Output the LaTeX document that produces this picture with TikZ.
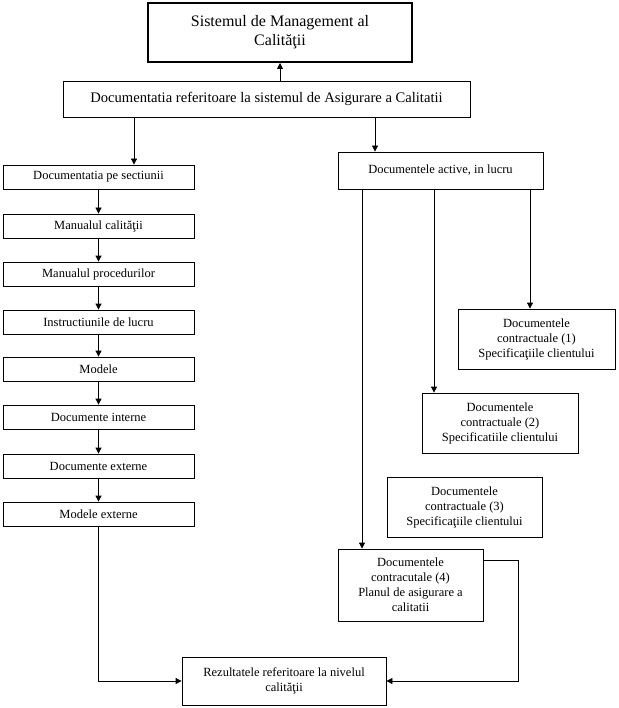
\documentclass[tikz,border=0pt]{standalone}
\usepackage{fontspec}
\setmainfont{Liberation Serif}
\usetikzlibrary{arrows.meta}
\begin{document}
\begin{tikzpicture}[x=1pt,y=-1pt,
  box/.style={draw,line width=0.8pt,inner sep=0pt,align=center,font=\fontsize{12.5}{15}\selectfont},
  arr/.style={line width=0.8pt,-{Triangle[length=6pt,width=6pt]}},
  ln/.style={line width=0.8pt}]
\useasboundingbox (0,0) rectangle (618,708);
\node[box,line width=2pt,minimum width=264pt,minimum height=59pt,font=\fontsize{16}{19}\selectfont] (top) at (280,32.5) {Sistemul de Management al\\Calităţii};
\node[box,minimum width=407pt,minimum height=36pt,font=\fontsize{14.6}{17}\selectfont] (doc) at (266.5,99) {Documentatia referitoare la sistemul de Asigurare a Calitatii};
\node[box,minimum width=191pt,minimum height=24pt] (l1) at (98.5,177) {Documentatia pe sectiunii};
\node[box,minimum width=191pt,minimum height=24pt] (l2) at (98.5,226) {Manualul calităţii};
\node[box,minimum width=191pt,minimum height=24pt] (l3) at (98.5,274) {Manualul procedurilor};
\node[box,minimum width=191pt,minimum height=24pt] (l4) at (98.5,322) {Instructiunile de lucru};
\node[box,minimum width=191pt,minimum height=24pt] (l5) at (98.5,369) {Modele};
\node[box,minimum width=191pt,minimum height=24pt] (l6) at (98.5,417) {Documente interne};
\node[box,minimum width=191pt,minimum height=24pt] (l7) at (98.5,466) {Documente externe};
\node[box,minimum width=191pt,minimum height=24pt] (l8) at (98.5,514) {Modele externe};
\node[box,minimum width=205pt,minimum height=37pt] (act) at (440.5,170.5) {Documentele active, in lucru};
\node[box,minimum width=157pt,minimum height=60pt] (c1) at (536.5,339) {Documentele\\contractuale (1)\\Specificaţiile clientului};
\node[box,minimum width=156pt,minimum height=60pt] (c2) at (500,423) {Documentele\\contractuale (2)\\Specificatiile clientului};
\node[box,minimum width=155pt,minimum height=60pt] (c3) at (464.5,507) {Documentele\\contractuale (3)\\Specificaţiile clientului};
\node[box,minimum width=145pt,minimum height=72pt] (c4) at (410.5,585) {Documentele\\contracutale (4)\\Planul de asigurare a\\calitatii};
\node[box,minimum width=204pt,minimum height=48pt] (rez) at (284,681) {Rezultatele referitoare la nivelul\\calităţii};
% arrows
\draw[arr] (top.south |- doc.north) -- (top.south);
\coordinate (t1) at ([xshift=35.5pt]l1.north);
\draw[arr] (t1 |- doc.south) -- (t1);
\coordinate (t2) at ([xshift=-65.5pt]act.north);
\draw[arr] (t2 |- doc.south) -- (t2);
\foreach \a/\b in {l1/l2,l2/l3,l3/l4,l4/l5,l5/l6,l6/l7,l7/l8}
  \draw[arr] (\a.south) -- (\b.north);
\coordinate (t4) at ([xshift=-48.5pt]c4.north);
\coordinate (t2b) at ([xshift=-66pt]c2.north);
\coordinate (t1b) at ([xshift=-6.5pt]c1.north);
\draw[arr] (t4 |- act.south) -- (t4);
\draw[arr] (t2b |- act.south) -- (t2b);
\draw[arr] (t1b |- act.south) -- (t1b);
\draw[arr] ([yshift=-12pt]c4.north east) -- ++(35,0) |- (rez.east);
\draw[arr] (l8.south) |- (rez.west);
\end{tikzpicture}
\end{document}
